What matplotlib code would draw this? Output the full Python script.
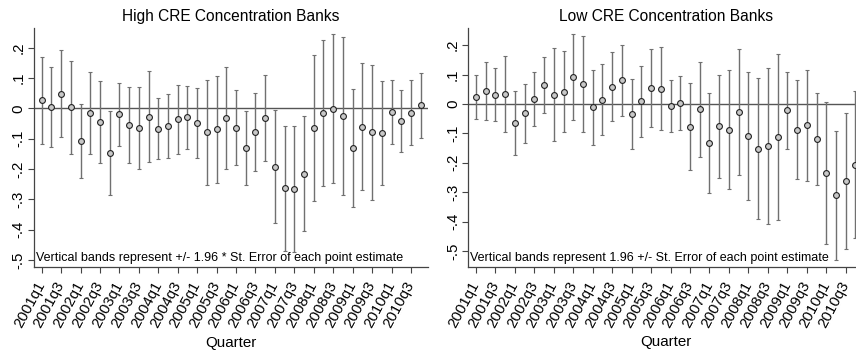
import matplotlib
matplotlib.use("Agg")
import matplotlib.pyplot as plt
import numpy as np

plt.rcParams['font.family'] = ['Liberation Sans', 'DejaVu Sans']

# quarter labels 2001q1 .. 2010q4
quarters = [f"{y}q{q}" for y in range(2001, 2011) for q in range(1, 5)]

# point estimates and 1.96*SE half-widths
high_est = [0.027, 0.005, 0.049, 0.004, -0.108, -0.016, -0.045, -0.147, -0.020, -0.055,
            -0.064, -0.027, -0.067, -0.058, -0.036, -0.029, -0.048, -0.078, -0.069, -0.031,
            -0.064, -0.131, -0.077, -0.033, -0.192, -0.263, -0.266, -0.215, -0.064, -0.015,
            -0.001, -0.025, -0.131, -0.060, -0.079, -0.081, -0.012, -0.041, -0.014, 0.010]
high_ci = [0.143, 0.133, 0.144, 0.153, 0.123, 0.135, 0.134, 0.139, 0.105, 0.124,
           0.135, 0.151, 0.100, 0.107, 0.113, 0.104, 0.114, 0.173, 0.176, 0.168,
           0.123, 0.121, 0.128, 0.142, 0.187, 0.206, 0.207, 0.189, 0.240, 0.240,
           0.245, 0.260, 0.194, 0.209, 0.222, 0.170, 0.104, 0.102, 0.108, 0.107]

low_est = [0.024, 0.044, 0.032, 0.035, -0.065, -0.032, 0.017, 0.065, 0.031, 0.041,
           0.091, 0.067, -0.011, 0.014, 0.059, 0.080, -0.034, 0.009, 0.053, 0.051,
           -0.006, 0.003, -0.078, -0.018, -0.132, -0.076, -0.088, -0.028, -0.109, -0.152,
           -0.143, -0.112, -0.022, -0.088, -0.073, -0.119, -0.235, -0.311, -0.263, -0.206]
low_ci = [0.074, 0.099, 0.091, 0.129, 0.109, 0.100, 0.092, 0.096, 0.158, 0.138,
          0.146, 0.164, 0.128, 0.121, 0.118, 0.120, 0.119, 0.121, 0.133, 0.141,
          0.088, 0.093, 0.148, 0.162, 0.170, 0.176, 0.202, 0.215, 0.219, 0.239,
          0.264, 0.281, 0.131, 0.168, 0.189, 0.156, 0.240, 0.219, 0.231, 0.250]

yticks = [0.2, 0.1, 0, -0.1, -0.2, -0.3, -0.4, -0.5]
ytick_labels = ['.2', '.1', '0', '-.1', '-.2', '-.3', '-.4', '-.5']

panels = [
    ("High CRE Concentration Banks", high_est, high_ci,
     "Vertical bands represent +/- 1.96 * St. Error of each point estimate",
     [0.0397, 0.2436, 0.4606, 0.6771], (-0.523, 0.265)),
    ("Low CRE Concentration Banks", low_est, low_ci,
     "Vertical bands represent 1.96 +/- St. Error of each point estimate",
     [0.5471, 0.2445, 0.4611, 0.6753], (-0.553, 0.257)),
]

fig = plt.figure(figsize=(8.56, 3.53), dpi=100)

for title, est, ci, note, pos, ylim in panels:
    ax = fig.add_axes(pos)
    x = np.arange(len(quarters))
    ax.axhline(0, color='#555555', lw=1.0, zorder=1)
    ax.errorbar(x, est, yerr=ci, fmt='o', ms=4.2, mfc='#c8c8c8', mec='#222222', mew=0.8,
                ecolor='#707070', elinewidth=1.0, capsize=1.6, capthick=1.0, zorder=2)
    ax.set_xlim(-0.79, 39.78)
    ax.set_ylim(*ylim)
    ax.set_yticks(yticks)
    ax.set_yticklabels(ytick_labels, rotation=90, va='center', fontsize=10.8)
    ax.set_xticks(x[::2])
    ax.set_xticklabels(quarters[::2], rotation=62, ha='right', va='center',
                       rotation_mode='anchor', fontsize=10.8)
    ax.tick_params(axis='both', direction='out', length=4, width=0.8, color='#444444')
    ax.tick_params(axis='x', pad=7)
    ax.tick_params(axis='y', pad=2)
    for s in ['top', 'right']:
        ax.spines[s].set_visible(False)
    for s in ['left', 'bottom']:
        ax.spines[s].set_color('#444444')
        ax.spines[s].set_linewidth(0.9)
    ax.set_title(title, fontsize=11.2, pad=5)
    ax.set_xlabel("Quarter", fontsize=10.9, labelpad=4)
    ax.text(0.004, 0.012, note, transform=ax.transAxes, fontsize=9.0,
            ha='left', va='bottom')

fig.savefig("out.png", dpi=100)
